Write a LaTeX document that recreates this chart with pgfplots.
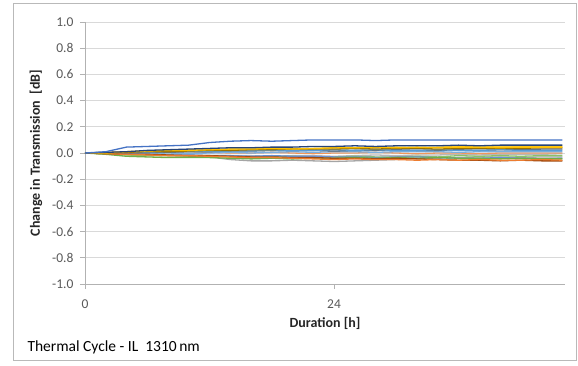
\documentclass[border=0pt]{standalone}
\usepackage{fontspec}
\setmainfont{Carlito}
\usepackage{pgfplots}
\usepackage{pgfplotstable}
\pgfplotsset{compat=1.18}
\definecolor{c1}{HTML}{4472C4}
\definecolor{c2}{HTML}{ED7D31}
\definecolor{c3}{HTML}{A5A5A5}
\definecolor{c4}{HTML}{FFC000}
\definecolor{c5}{HTML}{5B9BD5}
\definecolor{c6}{HTML}{70AD47}
\definecolor{c7}{HTML}{264478}
\definecolor{c8}{HTML}{9E480E}
\definecolor{c9}{HTML}{636363}
\definecolor{c10}{HTML}{997300}
\definecolor{c11}{HTML}{698ED0}
\definecolor{c12}{HTML}{F1975A}
\definecolor{c13}{HTML}{B7B7B7}
\definecolor{c14}{HTML}{FFCD33}
\definecolor{c15}{HTML}{7CAFDD}
\definecolor{c16}{HTML}{8CC168}
\definecolor{tickgray}{HTML}{595959}
\pgfplotstableread{
h s1 s2 s3 s4 s5 s6 s7 s8 s9 s10 s11 s12 s13 s14 s15 s16
0 0 0 0 0 0 0 0 0 0 0 0 0 0 0 0 0
2 0.01 -0.005 -0.005 0 0 -0.01 0.005 -0.005 0 0 0 0 -0.005 0.005 0 -0.005
4 0.045 -0.01 -0.01 0.01 0.005 -0.025 0.01 -0.01 0 0.005 -0.01 0.01 -0.01 0.01 -0.005 -0.015
6 0.05 -0.015 -0.015 0.015 0.005 -0.03 0.02 -0.01 0.005 0.01 -0.01 0.01 -0.01 0.015 -0.005 -0.02
8 0.055 -0.02 -0.02 0.02 0.01 -0.035 0.025 -0.015 0.005 0.01 -0.015 0.005 -0.015 0.02 0 -0.02
10 0.06 -0.02 -0.025 0.02 0.01 -0.035 0.03 -0.02 0.01 0.015 -0.015 0.01 -0.015 0.025 -0.005 -0.025
12 0.08 -0.025 -0.03 0.025 0.01 -0.035 0.035 -0.02 0.01 0.02 -0.02 0.005 -0.02 0.02 0 -0.025
14 0.09 -0.03 -0.05 0.03 0.015 -0.04 0.04 -0.025 0.015 0.02 -0.02 0 -0.02 0.03 0.005 -0.03
16 0.095 -0.035 -0.06 0.03 0.015 -0.045 0.04 -0.03 0.015 0.025 -0.025 0 -0.02 0.03 0 -0.03
18 0.09 -0.035 -0.06 0.035 0.02 -0.04 0.045 -0.03 0.02 0.025 -0.02 0.005 -0.025 0.03 0.005 -0.03
20 0.095 -0.04 -0.055 0.03 0.02 -0.045 0.045 -0.035 0.02 0.03 -0.025 0 -0.02 0.035 0.01 -0.025
22 0.10 -0.045 -0.06 0.035 0.02 -0.04 0.05 -0.035 0.02 0.03 -0.025 -0.005 -0.02 0.03 0.005 -0.03
24 0.10 -0.05 -0.065 0.04 0.025 -0.04 0.05 -0.04 0.015 0.03 -0.03 0 -0.025 0.04 0.01 -0.03
26 0.10 -0.045 -0.06 0.04 0.02 -0.035 0.055 -0.04 0.02 0.035 -0.03 0 -0.02 0.035 0.01 -0.025
28 0.095 -0.05 -0.055 0.045 0.025 -0.04 0.05 -0.045 0.02 0.03 -0.035 0.005 -0.015 0.04 0.005 -0.03
30 0.10 -0.05 -0.05 0.04 0.02 -0.035 0.055 -0.04 0.025 0.035 -0.03 0 -0.02 0.045 0.01 -0.03
32 0.10 -0.055 -0.04 0.045 0.02 -0.04 0.055 -0.045 0.02 0.035 -0.03 -0.005 -0.015 0.04 0.01 -0.025
34 0.10 -0.05 -0.04 0.04 0.025 -0.035 0.055 -0.05 0.02 0.03 -0.035 0 -0.015 0.045 0.01 -0.03
36 0.10 -0.055 -0.035 0.045 0.02 -0.04 0.06 -0.055 0.025 0.035 -0.04 0 -0.01 0.05 0.005 -0.02
38 0.10 -0.05 -0.03 0.045 0.02 -0.04 0.055 -0.055 0.02 0.035 -0.04 -0.005 -0.015 0.045 0.01 -0.025
40 0.10 -0.055 -0.03 0.04 0.025 -0.045 0.06 -0.06 0.025 0.035 -0.035 0 -0.01 0.05 0.01 -0.02
42 0.10 -0.055 -0.035 0.045 0.02 -0.04 0.06 -0.055 0.025 0.035 -0.04 0 -0.01 0.05 0.01 -0.025
44 0.10 -0.05 -0.03 0.045 0.02 -0.045 0.06 -0.06 0.03 0.04 -0.045 0 -0.01 0.05 0.01 -0.02
46 0.10 -0.055 -0.03 0.045 0.02 -0.045 0.06 -0.06 0.03 0.04 -0.04 0 -0.005 0.05 0.01 -0.02
}\datatable
\begin{document}
\begin{tikzpicture}
\useasboundingbox (0,0) rectangle (578pt,365pt);
\draw[gray!55, line width=0.8pt] (13pt,5pt) rectangle (576pt,362pt);
\begin{axis}[
  at={(85pt,81pt)}, anchor=south west,
  scale only axis, width=480pt, height=262pt,
  xmin=0, xmax=46.25, ymin=-1, ymax=1,
  xtick={0,24},
  ytick={-1,-0.8,-0.6,-0.4,-0.2,0,0.2,0.4,0.6,0.8,1},
  yticklabel style={/pgf/number format/fixed, /pgf/number format/fixed zerofill, /pgf/number format/precision=1, /pgf/number format/assume math mode=true, xshift=-3pt},
  xticklabel style={/pgf/number format/assume math mode=true, yshift=-7pt},
  ticklabel style={font=\fontsize{13.5}{15}\selectfont, text=tickgray},
  axis x line*=bottom, axis y line*=left,
  axis line style={draw=gray!60, line width=0.7pt},
  tick style={draw=gray!60, line width=0.7pt},
  tick align=outside, major tick length=5pt,
  ymajorgrids, grid style={draw=gray!30, line width=0.8pt},
  xlabel={\textbf{Duration [h]}},
  ylabel={\textbf{Change in Transmission\ \ [dB]}},
  label style={font=\fontsize{14}{16}\selectfont, text=black!85},
  xlabel style={at={(axis description cs:0.5,0)}, anchor=center, yshift=-39pt},
  ylabel style={at={(axis description cs:0,0.5)}, anchor=center, yshift=49pt},
  clip=false,
  every axis plot/.append style={line width=1.3pt, mark=none},
]
\foreach \s/\c in {s13/c13,s3/c3,s12/c12,s16/c16,s15/c15,s14/c14,s9/c9,s11/c11,s5/c5,s6/c6,s8/c8,s2/c2,s10/c10,s4/c4,s7/c7,s1/c1}{
  \edef\tmp{\noexpand\addplot[color=\c] table[x=h,y=\s]{\noexpand\datatable};}
  \tmp
}
\end{axis}
\node[anchor=west, font=\fontsize{15.5}{17}\selectfont, text=black] at (24pt,18pt) {Thermal Cycle - IL\ \ 1310\,nm};
\end{tikzpicture}
\end{document}
